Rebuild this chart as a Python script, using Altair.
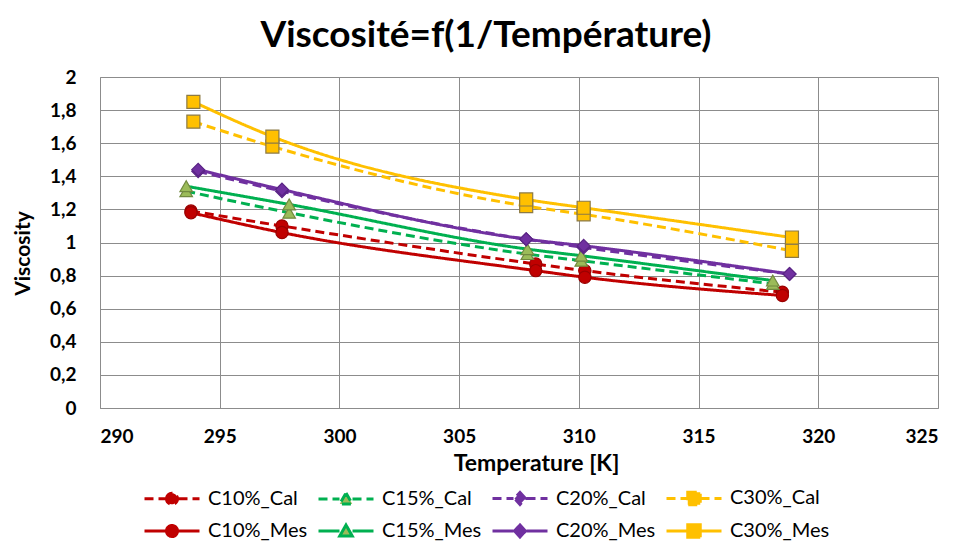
import altair as alt
import pandas as pd

# ---------------- data ----------------
concs = ["C10%", "C15%", "C20%", "C30%"]
temps = {
    "C10%": [293.8, 297.6, 308.2, 310.25, 318.5],
    "C15%": [293.6, 297.9, 307.85, 310.1, 318.1],
    "C20%": [294.1, 297.6, 307.8, 310.2, 318.8],
    "C30%": [293.9, 297.2, 307.8, 310.2, 318.9],
}
cal = {
    "C10%": [1.19, 1.10, 0.87, 0.83, 0.70],
    "C15%": [1.31, 1.18, 0.93, 0.89, 0.75],
    "C20%": [1.43, 1.31, 1.02, 0.97, 0.81],
    "C30%": [1.73, 1.58, 1.22, 1.17, 0.95],
}
mes = {
    "C10%": [1.18, 1.06, 0.83, 0.79, 0.68],
    "C15%": [1.34, 1.23, 0.96, 0.92, 0.77],
    "C20%": [1.44, 1.32, 1.02, 0.98, 0.81],
    "C30%": [1.85, 1.64, 1.26, 1.21, 1.03],
}
x_ticks = [290, 295, 300, 305, 310, 315, 320, 325]
y_ticks = [0, 0.2, 0.4, 0.6, 0.8, 1, 1.2, 1.4, 1.6, 1.8, 2]

# ---------------- styles ----------------
line_colors = ["#C00000", "#00B050", "#7030A0", "#FFC000"]
marker_fill = ["#C00000", "#9BBB59", "#7030A0", "#FFC000"]
marker_stroke = ["#9A0000", "#71893F", "#5A2485", "#8C7A45"]
marker_shapes = ["circle", "triangle-up", "diamond", "square"]
marker_sizes = [150, 170, 160, 260]
FONT = "Lato"
GRID = "#8C8C8C"

rows = []
for c in concs:
    for t, v in zip(temps[c], cal[c]):
        rows.append({"T": t, "V": v, "series": c + "_Cal", "conc": c})
    for t, v in zip(temps[c], mes[c]):
        rows.append({"T": t, "V": v, "series": c + "_Mes", "conc": c})
df = pd.DataFrame(rows)

series_order = [c + "_Cal" for c in concs] + [c + "_Mes" for c in concs]

# legend symbols: a line segment with the marker in its middle
seg = "M-5.5,0L-1.3,0M1.3,0L5.5,0"
marker_paths = {
    "C10%": "M-1.1,0A1.1,1.1,0,1,1,1.1,0A1.1,1.1,0,1,1,-1.1,0Z",
    "C15%": "M0,-1.2L1.25,1L-1.25,1Z",
    "C20%": "M0,-1.2L1.1,0L0,1.2L-1.1,0Z",
    "C30%": "M-1.25,-1.25L1.25,-1.25L1.25,1.25L-1.25,1.25Z",
}
shape_expr = ""
fill_expr = ""
for i, c in enumerate(concs):
    cond = "indexof(datum.value,'%s')>=0" % c[:3]
    if i < len(concs) - 1:
        shape_expr += "%s ? '%s' : " % (cond, seg + marker_paths[c])
        fill_expr += "%s ? '%s' : " % (cond, marker_fill[i])
    else:
        shape_expr += "'%s'" % (seg + marker_paths[c])
        fill_expr += "'%s'" % marker_fill[i]

legend = alt.Legend(
    title=None, orient="none", legendX=40, legendY=411, columns=4,
    direction="horizontal", labelFont=FONT, labelFontSize=20, labelColor="#000",
    symbolSize=100, symbolStrokeWidth=3, symbolOffset=22, labelOffset=26,
    columnPadding=4, rowPadding=7,
    symbolType={"expr": shape_expr},
    symbolFillColor={"expr": fill_expr},
)

x_enc = alt.X("T:Q", title="Temperature [K]",
              scale=alt.Scale(domain=[290, 325], nice=False, zero=False),
              axis=alt.Axis(values=x_ticks, grid=True, gridColor=GRID, domainColor=GRID,
                            ticks=False, labelFont=FONT, labelFontSize=19, labelFontWeight="bold",
                            labelColor="#000", labelPadding=19, titleFont=FONT, titleFontSize=23,
                            titleFontWeight="bold", titleColor="#000", titleX=436, titleY=62,
                            titleBaseline="alphabetic"))
y_enc = alt.Y("V:Q", title="Viscosity",
              scale=alt.Scale(domain=[0, 2], nice=False),
              axis=alt.Axis(values=y_ticks, grid=True, gridColor=GRID, domainColor=GRID,
                            ticks=False, format="~g", labelExpr="replace(datum.label, '.', ',')",
                            labelOverlap=False, labelFont=FONT, labelFontSize=19,
                            labelFontWeight="bold", labelColor="#000", labelPadding=24,
                            titleFont=FONT, titleFontSize=21, titleFontWeight="bold",
                            titleColor="#000", titleX=-77, titleY=176, titleAngle=270,
                            titleBaseline="middle"))

lines = alt.Chart(df).mark_line(strokeWidth=3, interpolate="monotone").encode(
    x=x_enc, y=y_enc,
    color=alt.Color("series:N", scale=alt.Scale(domain=series_order, range=line_colors * 2),
                    legend=legend),
    strokeDash=alt.StrokeDash("series:N",
                              scale=alt.Scale(domain=series_order, range=[[9, 5]] * 4 + [[1, 0]] * 4),
                              legend=legend),
)

points = alt.Chart(df).mark_point(filled=True, strokeWidth=1.2, opacity=1).encode(
    x=x_enc, y=y_enc,
    shape=alt.Shape("conc:N", scale=alt.Scale(domain=concs, range=marker_shapes), legend=None),
    fill=alt.Fill("conc:N", scale=alt.Scale(domain=concs, range=marker_fill), legend=None),
    stroke=alt.Stroke("conc:N", scale=alt.Scale(domain=concs, range=marker_stroke), legend=None),
    size=alt.Size("conc:N", scale=alt.Scale(domain=concs, range=marker_sizes), legend=None),
)

chart = alt.layer(lines, points).properties(
    width=838, height=331,
    title=alt.Title("Viscosité=f(1/Température)", font=FONT, fontSize=37, fontWeight="bold",
                    color="#000", anchor="middle", frame="group", dx=-33, offset=0, dy=16,
                    baseline="alphabetic"),
    padding={"left": 92, "top": 69, "right": 11, "bottom": 140},
    autosize=alt.AutoSizeParams(type="none"),
).configure_view(stroke=None).configure_axis(labelOverlap=False).configure(background="white")

chart.save("out.html", embed_options={"renderer": "svg", "actions": False})
